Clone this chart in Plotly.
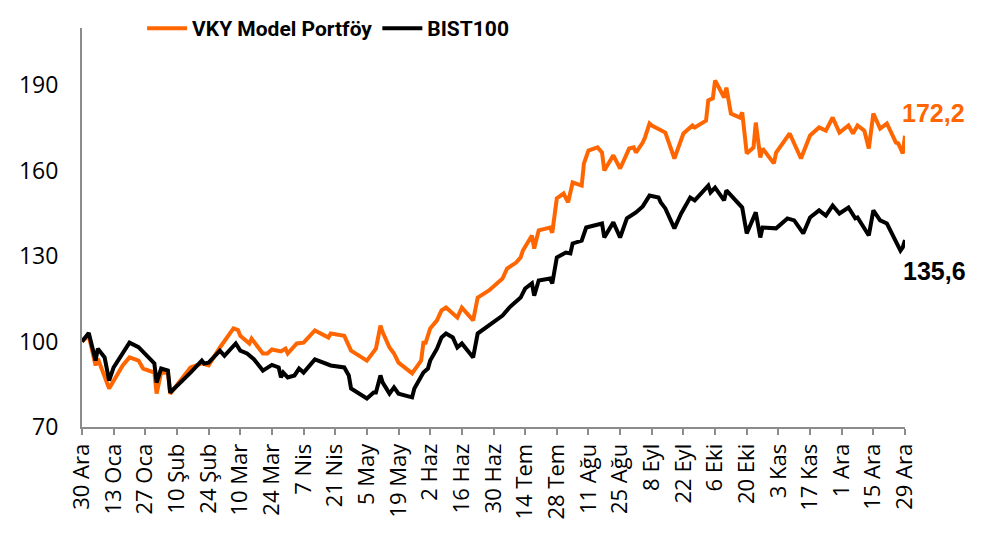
import plotly.graph_objects as go

# ---- data ----
vky_dates = ["2022-12-30","2023-01-02","2023-01-05","2023-01-06","2023-01-11","2023-01-13","2023-01-17","2023-01-20","2023-01-24","2023-01-26","2023-01-31","2023-02-01","2023-02-03","2023-02-06","2023-02-07","2023-02-16","2023-02-21","2023-02-24","2023-03-01","2023-03-07","2023-03-09","2023-03-10","2023-03-14","2023-03-15","2023-03-20","2023-03-22","2023-03-24","2023-03-28","2023-03-30","2023-03-31","2023-04-04","2023-04-07","2023-04-12","2023-04-18","2023-04-19","2023-04-25","2023-04-28","2023-05-05","2023-05-08","2023-05-09","2023-05-11","2023-05-12","2023-05-15","2023-05-17","2023-05-19","2023-05-25","2023-05-29","2023-05-30","2023-05-31","2023-06-01","2023-06-02","2023-06-05","2023-06-07","2023-06-09","2023-06-14","2023-06-16","2023-06-21","2023-06-23","2023-06-28","2023-07-04","2023-07-06","2023-07-10","2023-07-12","2023-07-13","2023-07-17","2023-07-18","2023-07-20","2023-07-25","2023-07-26","2023-07-28","2023-07-31","2023-08-02","2023-08-04","2023-08-08","2023-08-09","2023-08-11","2023-08-15","2023-08-17","2023-08-18","2023-08-22","2023-08-25","2023-08-29","2023-08-31","2023-09-01","2023-09-04","2023-09-05","2023-09-07","2023-09-08","2023-09-12","2023-09-14","2023-09-18","2023-09-21","2023-09-22","2023-09-26","2023-09-27","2023-10-02","2023-10-03","2023-10-05","2023-10-06","2023-10-10","2023-10-11","2023-10-13","2023-10-17","2023-10-18","2023-10-20","2023-10-23","2023-10-24","2023-10-26","2023-10-27","2023-11-01","2023-11-02","2023-11-08","2023-11-13","2023-11-17","2023-11-21","2023-11-24","2023-11-27","2023-11-30","2023-12-04","2023-12-06","2023-12-08","2023-12-11","2023-12-13","2023-12-15","2023-12-18","2023-12-21","2023-12-25","2023-12-26","2023-12-28","2023-12-29"]
vky_values = [100,102,91.6,94,83.5,86.3,91.6,94.4,93.3,90.5,89.1,81.7,89.1,89,81.7,90.9,92.3,91.6,97.9,104.6,104,102,99.3,101,95.8,95.8,97.2,96.5,97.5,95.8,99.3,99.6,103.9,101.4,102.8,102,96.8,93.3,96.8,97.5,105.6,103.2,97.9,95.8,92.6,88.8,93.3,99.6,99.6,102.8,104.6,107.4,110.9,111.9,108.4,111.9,107.4,115.4,117.9,122.1,125.6,127.7,129.5,131.9,137.2,132.6,139,140,138.2,150.2,151.9,148.8,155.8,154.7,162.5,167,168.1,166.3,160,165.3,160.7,167.7,168.1,166.3,169.8,171.6,176.5,175.8,174,173.3,164.2,171.2,173,175.8,175.1,177.5,184.6,185.3,191.6,185.6,189.1,180,178.6,180.4,166,168.1,176.8,164.6,167.7,162.5,166.3,173,164.2,172.3,175.1,174,178.6,173.3,175.8,173,175.8,174,167.7,180,174.7,176.5,169.8,169.5,166,172.2]

bist_dates = ["2022-12-30","2023-01-02","2023-01-05","2023-01-06","2023-01-09","2023-01-11","2023-01-13","2023-01-20","2023-01-24","2023-01-30","2023-01-31","2023-02-01","2023-02-03","2023-02-06","2023-02-07","2023-02-16","2023-02-21","2023-02-22","2023-02-24","2023-03-01","2023-03-03","2023-03-08","2023-03-10","2023-03-13","2023-03-16","2023-03-20","2023-03-24","2023-03-27","2023-03-28","2023-03-29","2023-03-31","2023-04-03","2023-04-05","2023-04-07","2023-04-12","2023-04-19","2023-04-25","2023-04-27","2023-04-28","2023-05-05","2023-05-08","2023-05-09","2023-05-11","2023-05-12","2023-05-15","2023-05-17","2023-05-19","2023-05-25","2023-05-26","2023-05-30","2023-06-01","2023-06-02","2023-06-05","2023-06-07","2023-06-09","2023-06-12","2023-06-14","2023-06-16","2023-06-21","2023-06-23","2023-06-28","2023-07-04","2023-07-07","2023-07-11","2023-07-12","2023-07-14","2023-07-17","2023-07-18","2023-07-20","2023-07-25","2023-07-26","2023-07-28","2023-08-01","2023-08-03","2023-08-04","2023-08-08","2023-08-10","2023-08-17","2023-08-18","2023-08-22","2023-08-25","2023-08-28","2023-09-01","2023-09-04","2023-09-07","2023-09-11","2023-09-12","2023-09-14","2023-09-18","2023-09-21","2023-09-25","2023-09-27","2023-10-02","2023-10-03","2023-10-04","2023-10-06","2023-10-10","2023-10-11","2023-10-18","2023-10-20","2023-10-24","2023-10-26","2023-10-27","2023-10-31","2023-11-02","2023-11-07","2023-11-10","2023-11-14","2023-11-17","2023-11-21","2023-11-24","2023-11-27","2023-11-30","2023-12-04","2023-12-07","2023-12-08","2023-12-13","2023-12-15","2023-12-18","2023-12-21","2023-12-25","2023-12-27","2023-12-28","2023-12-29"]
bist_values = [100,103,93.3,97.5,94.4,86.3,90.9,99.6,98,93.3,92.3,85.6,90.5,89.8,82.1,89.1,93.3,92.3,92.6,96.8,95,99.3,96.8,95.8,93.8,89.8,91.8,90.9,87.4,89.1,87.4,88.1,90.5,89.1,93.7,91.6,90.9,88.1,83.5,80,82.1,82.1,88.1,85.6,81.7,83.9,81.7,80.4,83.5,89.1,90.5,93.3,97.5,101.4,102.8,101.4,97.9,99.3,94.4,102.8,105.6,109.1,111.9,115.1,115.4,118.6,120.4,116.1,121.4,122.1,120.4,129.5,131.2,130.9,134.4,135.4,140,141.4,136.5,141.8,136.5,143.2,145.3,147.4,151.2,150.5,148.8,146.7,139.7,144.9,150.5,149.5,153.7,154.7,152.3,154,149.5,153,147,137.9,145.3,136.5,140,140,139.7,143.2,142.5,137.9,143.5,146,144.2,147.7,144.9,147,143.2,143.5,137.2,146,142.5,141.4,135.4,131.9,133,135.6]

tick_dates = ["2022-12-30","2023-01-13","2023-01-27","2023-02-10","2023-02-24","2023-03-10","2023-03-24","2023-04-07","2023-04-21","2023-05-05","2023-05-19","2023-06-02","2023-06-16","2023-06-30","2023-07-14","2023-07-28","2023-08-11","2023-08-25","2023-09-08","2023-09-22","2023-10-06","2023-10-20","2023-11-03","2023-11-17","2023-12-01","2023-12-15","2023-12-29"]
tick_labels = ["30 Ara","13 Oca","27 Oca","10 Şub","24 Şub","10 Mar","24 Mar","7 Nis","21 Nis","5 May","19 May","2 Haz","16 Haz","30 Haz","14 Tem","28 Tem","11 Ağu","25 Ağu","8 Eyl","22 Eyl","6 Eki","20 Eki","3 Kas","17 Kas","1 Ara","15 Ara","29 Ara"]
y_ticks = [70, 100, 130, 160, 190]

ORANGE = "#FF6600"
BLACK = "#000000"
AXIS = "#8C8C8C"
BOLD = "Roboto, Liberation Sans, sans-serif"
TICKFONT = "Open Sans, sans-serif"

fig = go.Figure()
fig.add_trace(go.Scatter(x=vky_dates, y=vky_values, mode="lines", name="<b>VKY Model Portföy</b>",
                         line=dict(color=ORANGE, width=4)))
fig.add_trace(go.Scatter(x=bist_dates, y=bist_values, mode="lines", name="<b>BIST100</b>",
                         line=dict(color=BLACK, width=4)))

fig.add_annotation(x=vky_dates[-1], y=vky_values[-1], text="<b>172,2</b>", showarrow=False,
                   xanchor="left", yanchor="middle", xshift=-5, yshift=23,
                   font=dict(family="Liberation Sans, Arial, sans-serif", size=25, color=ORANGE))
fig.add_annotation(x=bist_dates[-1], y=bist_values[-1], text="<b>135,6</b>", showarrow=False,
                   xanchor="left", yanchor="middle", xshift=-4, yshift=-31,
                   font=dict(family="Liberation Sans, Arial, sans-serif", size=25, color=BLACK))

fig.update_layout(
    width=990, height=540,
    margin=dict(l=74, r=93, t=20, b=121, autoexpand=False),
    paper_bgcolor="white", plot_bgcolor="white",
    showlegend=True,
    legend=dict(orientation="h", x=0.073, xanchor="left", y=1.05, yanchor="top",
                font=dict(family=BOLD, size=21, color="#000000"),
                itemwidth=40, tracegroupgap=0, bgcolor="rgba(0,0,0,0)"),
    font=dict(family=TICKFONT, color="#000000"),
)
fig.update_xaxes(type="date", range=["2022-12-30", "2023-12-29"],
                 tickvals=tick_dates, ticktext=tick_labels, tickangle=-90,
                 tickfont=dict(family=TICKFONT, size=22, color="#000000"),
                 showgrid=False, zeroline=False, showline=True, linecolor=AXIS, linewidth=2,
                 ticks="outside", ticklen=6, tickcolor=AXIS, tickwidth=1.5)
fig.update_yaxes(range=[70, 210], tickvals=y_ticks,
                 tickfont=dict(family=TICKFONT, size=23, color="#000000"),
                 showgrid=False, zeroline=False, showline=True, linecolor=AXIS, linewidth=2,
                 ticks="", ticklabelstandoff=17)

fig.write_html("out.html")
